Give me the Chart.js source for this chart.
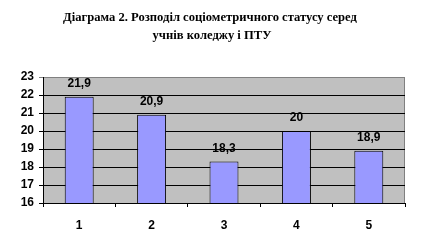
<!DOCTYPE html>
<html>
<head>
<meta charset="utf-8">
<script src="https://cdn.jsdelivr.net/npm/chart.js@4"></script>
<style>
  html, body { margin: 0; padding: 0; background: #fff; }
  #wrap { width: 421px; height: 251px; }
</style>
</head>
<body>
<div id="wrap"><canvas id="chart" width="421" height="251"></canvas></div>
<script>
const TITLE_LINES = [
  "Діаграма 2. Розподіл соціометричного статусу серед",
  "учнів коледжу і ПТУ",
];
const CATEGORIES = ["1", "2", "3", "4", "5"];
const VALUES = [21.9, 20.9, 18.3, 20, 18.9];
const Y_MIN = 16;
const Y_MAX = 23;

const AXIS_FONT = { family: "'Liberation Sans', Arial, sans-serif", size: 12, weight: "bold" };

// grey plot area with a darker frame on top/right
const plotBackground = {
  id: "plotBackground",
  beforeDraw(chart) {
    const { ctx, chartArea: a } = chart;
    ctx.save();
    ctx.fillStyle = "#c0c0c0";
    ctx.fillRect(a.left, a.top, a.right - a.left, a.bottom - a.top);
    ctx.strokeStyle = "#808080";
    ctx.lineWidth = 1;
    ctx.beginPath();
    ctx.moveTo(a.left, a.top + 0.5);
    ctx.lineTo(a.right - 0.5, a.top + 0.5);
    ctx.lineTo(a.right - 0.5, a.bottom);
    ctx.stroke();
    ctx.restore();
  },
};

const titleText = {
  id: "titleText",
  afterDraw(chart) {
    const { ctx } = chart;
    ctx.save();
    ctx.fillStyle = "#000";
    ctx.font = "bold 12.6px 'Liberation Serif', 'Times New Roman', serif";
    ctx.textAlign = "center";
    ctx.textBaseline = "middle";
    ctx.fillText(TITLE_LINES[0], 210, 18);
    ctx.fillText(TITLE_LINES[1], 212, 36);
    ctx.restore();
  },
};

const valueLabels = {
  id: "valueLabels",
  afterDatasetsDraw(chart) {
    const { ctx } = chart;
    const meta = chart.getDatasetMeta(0);
    ctx.save();
    ctx.fillStyle = "#000";
    ctx.font = "bold 12px 'Liberation Sans', Arial, sans-serif";
    ctx.textAlign = "center";
    ctx.textBaseline = "middle";
    meta.data.forEach((bar, i) => {
      const txt = String(VALUES[i]).replace(".", ",");
      ctx.fillText(txt, bar.x, bar.y - 13);
    });
    ctx.restore();
  },
};

new Chart(document.getElementById("chart"), {
  type: "bar",
  data: {
    labels: CATEGORIES,
    datasets: [
      {
        data: VALUES,
        backgroundColor: "#9999ff",
        borderColor: "#000",
        borderWidth: 1,
        barPercentage: 0.4,
        categoryPercentage: 1,
      },
    ],
  },
  options: {
    responsive: false,
    animation: false,
    layout: { padding: { top: 77, right: 16, left: 0, bottom: 0 } },
    plugins: {
      legend: { display: false },
      title: { display: false },
      tooltip: { enabled: false },
    },
    scales: {
      x: {
        offset: true,
        grid: {
          offset: true,
          drawOnChartArea: false,
          drawTicks: true,
          tickLength: 4,
          color: "#000",
        },
        border: { color: "#000" },
        ticks: { color: "#000", font: AXIS_FONT, padding: 11 },
        afterFit(scale) { scale.height = 48; },
      },
      y: {
        min: Y_MIN,
        max: Y_MAX,
        grid: {
          color: (c) => (c.tick && c.tick.value === Y_MAX ? "#808080" : "#000"),
          tickLength: 4,
        },
        border: { color: "#000" },
        ticks: { stepSize: 1, color: "#000", font: AXIS_FONT, padding: 5 },
        afterFit(scale) { scale.width = 43; },
      },
    },
  },
  plugins: [plotBackground, valueLabels, titleText],
});
</script>
</body>
</html>
